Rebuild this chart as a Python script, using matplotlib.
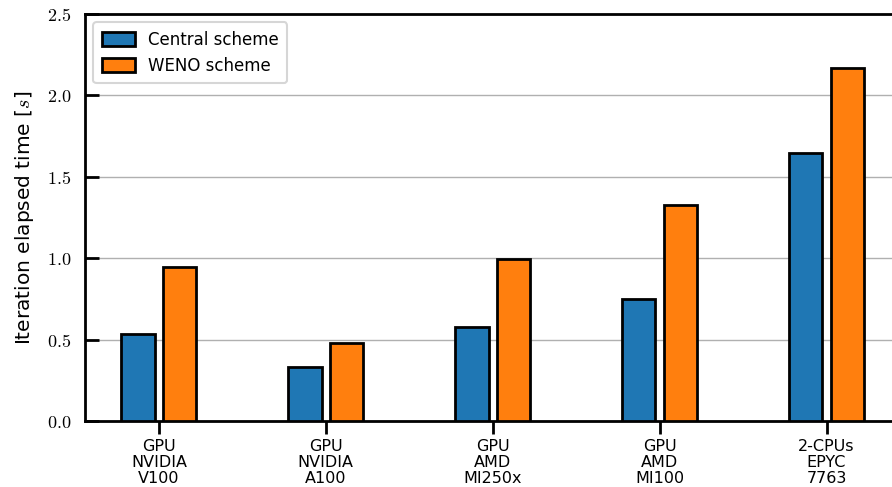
import matplotlib
matplotlib.use("Agg")
import matplotlib.pyplot as plt
import numpy as np
from matplotlib.ticker import FuncFormatter

categories = ["GPU\nNVIDIA\nV100", "GPU\nNVIDIA\nA100", "GPU\nAMD\nMI250x", "GPU\nAMD\nMI100", "2-CPUs\nEPYC\n7763"]
central = [0.534, 0.332, 0.577, 0.749, 1.646]
weno = [0.946, 0.479, 0.995, 1.327, 2.168]
series_names = ["Central scheme", "WENO scheme"]

plt.rcParams['mathtext.fontset'] = 'cm'
plt.rcParams['font.family'] = ['DejaVu Sans']

fig = plt.figure(figsize=(8.92, 4.87), dpi=100)
W, H = 892, 487
left, right, top, bottom = 85, 900, 14, 421
ax = fig.add_axes([left / W, 1 - bottom / H, (right - left) / W, (bottom - top) / H])

x = np.arange(len(categories))
w = 0.2
off = 0.125
ax.bar(x - off, central, w, color="#1f77b4", edgecolor="black", linewidth=2, label=series_names[0], zorder=3)
ax.bar(x + off, weno, w, color="#ff7f0e", edgecolor="black", linewidth=2, label=series_names[1], zorder=3)

ax.set_xlim(-0.443, 4.44)
ax.set_ylim(0, 2.5)
ax.set_yticks([0, 0.5, 1.0, 1.5, 2.0, 2.5])
ax.yaxis.set_major_formatter(FuncFormatter(lambda v, p: r"$%.1f$" % v))
ax.set_xticks(x)
ax.set_xticklabels(categories, fontsize=11.5, linespacing=1.1)
ax.tick_params(axis='y', direction='in', length=10, width=2, labelsize=13, pad=10)
ax.tick_params(axis='x', direction='out', length=9, width=2, pad=4)
for s in ax.spines.values():
    s.set_linewidth(2)
ax.yaxis.grid(True, color="#b0b0b0", linewidth=1, zorder=0)
ax.set_axisbelow(True)
ax.set_ylabel(r"Iteration elapsed time [$s$]", fontsize=14.5, labelpad=8)

leg = ax.legend(loc="upper left", fontsize=12, frameon=True, fancybox=True,
                edgecolor="#cccccc", handlelength=2.0, handleheight=0.9,
                borderpad=0.5, labelspacing=0.5)
leg.get_frame().set_linewidth(1.5)

fig.savefig("out.png", dpi=100)
